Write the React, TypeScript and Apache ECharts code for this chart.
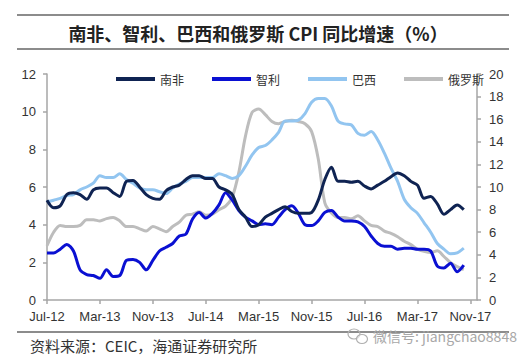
import React, { useEffect, useRef } from "react";
import * as echarts from "echarts";

const MONTHS = ["Jan", "Feb", "Mar", "Apr", "May", "Jun", "Jul", "Aug", "Sep", "Oct", "Nov", "Dec"];
// Jul-12 .. Dec-17
const categories: string[] = [];
for (let k = 0; k < 66; k++) {
  const m = (6 + k) % 12;
  const y = 12 + Math.floor((6 + k) / 12);
  categories.push(`${MONTHS[m]}-${y}`);
}

const seriesNames = ["南非", "智利", "巴西", "俄罗斯"];

const southAfrica = [
  5.3, 4.9, 5.0, 5.6, 5.7, 5.6, 5.35, 5.85, 5.95, 5.95, 5.7, 5.5,
  6.3, 6.35, 6.0, 5.6, 5.4, 5.35, 5.8, 6.0, 6.1, 6.4, 6.6, 6.6,
  6.45, 6.45, 6.0, 5.85, 5.6, 4.8, 4.4, 3.9, 4.0, 4.4, 4.6, 4.8,
  4.95, 4.7, 4.6, 4.6, 4.65, 5.3, 6.4, 7.05, 6.3, 6.3, 6.25, 6.3,
  6.05, 5.9, 6.1, 6.3, 6.55, 6.75, 6.6, 6.3, 6.1, 5.4, 5.5, 5.1,
  4.55, 4.8, 5.05, 4.8,
];

const chile = [
  2.5, 2.5, 2.7, 2.95, 2.6, 1.6, 1.35, 1.3, 1.15, 1.6, 1.25, 1.3,
  2.1, 2.15, 2.0, 1.6, 2.1, 2.6, 2.8, 3.0, 3.4, 3.5, 4.3, 4.65,
  4.35, 4.6, 5.05, 5.7, 5.3, 4.75, 4.4, 4.2, 4.0, 4.05, 4.0, 4.4,
  4.8, 5.0, 4.6, 4.0, 3.95, 4.2, 4.65, 4.75, 4.4, 4.2, 4.2, 4.15,
  3.9, 3.4, 3.0, 2.85, 2.85, 2.7, 2.75, 2.75, 2.7, 2.7, 2.6, 1.8,
  1.7, 1.95, 1.5, 1.85,
];

const brazil = [
  5.2, 5.3, 5.4, 5.55, 5.6, 5.85, 6.0, 6.2, 6.6, 6.5, 6.5, 6.7,
  6.4, 6.2, 5.95, 5.85, 5.85, 5.75, 5.65, 5.95, 6.15, 6.3, 6.5, 6.5,
  6.5, 6.5, 6.7, 6.6, 6.45, 6.6, 7.1, 7.7, 8.1, 8.2, 8.5, 8.9,
  9.5, 9.5, 9.55, 9.9, 10.5, 10.7, 10.7, 10.3, 9.5, 9.35, 9.3, 8.85,
  8.75, 8.95, 8.5, 7.8, 7.0, 6.3, 5.35, 4.9, 4.6, 4.1, 3.6, 3.0,
  2.7, 2.45, 2.5, 2.75,
];

const russia = [
  4.8, 6.0, 6.6, 6.5, 6.5, 6.6, 7.1, 7.1, 7.0, 7.2, 7.3, 7.0,
  6.5, 6.5, 6.3, 6.1, 6.5, 6.3, 6.05, 6.5, 6.9, 7.5, 7.6, 7.8,
  7.5, 7.6, 8.0, 8.3, 9.1, 11.3, 14.5, 16.6, 16.9, 16.4, 15.8, 15.6,
  15.8, 15.9, 15.8, 15.6, 14.9, 12.5, 8.6, 7.7, 7.3, 7.3, 7.2, 7.45,
  7.0, 6.6, 6.5, 6.1, 5.9, 5.6, 5.2, 4.9, 4.5, 4.3, 4.2, 4.35,
  3.85, 3.3, 2.95, 2.7,
];

const colors = ["#0f2352", "#0a10d2", "#92c5f0", "#bdbdbd"];

export default function App() {
  const ref = useRef<HTMLDivElement>(null);
  useEffect(() => {
    if (!ref.current) return;
    const chart = echarts.init(ref.current, null, { renderer: "svg" });
    const axisLabelStyle = { color: "#333", fontSize: 13, fontFamily: "Liberation Sans, Arial, sans-serif" };
    const axisLine = { show: true, lineStyle: { color: "#a6a6a6", width: 1.5 } };
    const axisTick = { show: true, inside: false, length: 4, lineStyle: { color: "#a6a6a6", width: 1.5 } };
    chart.setOption({
      animation: false,
      backgroundColor: "#ffffff",
      color: colors,
      grid: { left: 47, right: 40, top: 74, bottom: 58, containLabel: false },
      legend: {
        left: 111,
        top: 68,
        itemWidth: 39,
        itemHeight: 4,
        itemGap: 28,
        textStyle: { color: "#333", fontSize: 12, fontFamily: "Noto Sans CJK SC" },
        data: seriesNames.map((n) => ({ name: n, icon: "rect" })),
      },
      xAxis: {
        type: "category",
        data: categories,
        boundaryGap: false,
        axisLine,
        axisTick: { ...axisTick, interval: 7 },
        axisLabel: { ...axisLabelStyle, interval: 7, margin: 10 },
        splitLine: { show: false },
      },
      yAxis: [
        {
          type: "value",
          min: 0,
          max: 12,
          interval: 2,
          position: "left",
          axisLine,
          axisTick,
          axisLabel: { ...axisLabelStyle, margin: 11 },
          splitLine: { show: false },
        },
        {
          type: "value",
          min: 0,
          max: 20,
          interval: 2,
          position: "right",
          axisLine,
          axisTick,
          axisLabel: { ...axisLabelStyle, margin: 12 },
          splitLine: { show: false },
        },
      ],
      series: [
        { name: seriesNames[0], type: "line", data: southAfrica, yAxisIndex: 0 },
        { name: seriesNames[1], type: "line", data: chile, yAxisIndex: 0 },
        { name: seriesNames[2], type: "line", data: brazil, yAxisIndex: 0 },
        { name: seriesNames[3], type: "line", data: russia, yAxisIndex: 1 },
      ].map((s, i) => ({
        ...s,
        smooth: 0.3,
        showSymbol: false,
        symbol: "none",
        lineStyle: { width: 3, color: colors[i] },
        z: i === 3 ? 1 : 3 - i + 1,
      })),
      graphic: [
        { type: "line", shape: { x1: 17, y1: 15, x2: 509, y2: 15 }, style: { stroke: "#8c8c8c", lineWidth: 2 } },
        { type: "line", shape: { x1: 17, y1: 49, x2: 509, y2: 49 }, style: { stroke: "#8c8c8c", lineWidth: 2 } },
        { type: "line", shape: { x1: 17, y1: 332, x2: 509, y2: 332 }, style: { stroke: "#8c8c8c", lineWidth: 2 } },
        {
          type: "text",
          x: 258,
          y: 33,
          style: {
            text: "南非、智利、巴西和俄罗斯 CPI 同比增速（%）",
            fill: "#222",
            font: "bold 18px 'Noto Sans CJK SC', sans-serif",
            textAlign: "center",
            textVerticalAlign: "middle",
          },
        },
        {
          type: "text",
          x: 30,
          y: 345,
          style: {
            text: "资料来源：CEIC，海通证券研究所",
            fill: "#333",
            font: "15px 'Noto Sans CJK SC', sans-serif",
            textAlign: "left",
            textVerticalAlign: "middle",
          },
        },
        { type: "ellipse", shape: { cx: 354, cy: 334, rx: 6, ry: 5 }, style: { fill: "none", stroke: "#b0b0b0", lineWidth: 1.2 } },
        { type: "ellipse", shape: { cx: 362, cy: 339, rx: 5.5, ry: 4.5 }, style: { fill: "rgba(255,255,255,0.6)", stroke: "#b0b0b0", lineWidth: 1.2 } },
        {
          type: "text",
          x: 373,
          y: 336,
          style: {
            text: "微信号: jiangchao8848",
            fill: "#a8a8a8",
            font: "14px 'Noto Sans CJK SC', sans-serif",
            textAlign: "left",
            textVerticalAlign: "middle",
          },
        },
      ],
    });
    return () => chart.dispose();
  }, []);
  return <div ref={ref} style={{ position: "fixed", left: 0, top: 0, width: 517, height: 358 }} />;
}
